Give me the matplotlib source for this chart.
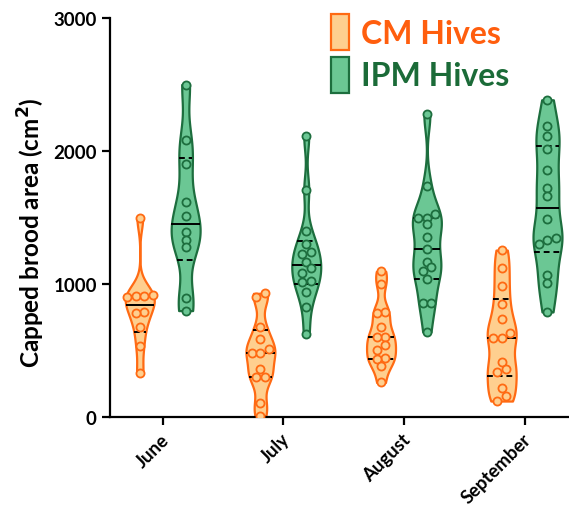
import numpy as np
import matplotlib
matplotlib.use("Agg")
import matplotlib.pyplot as plt
import matplotlib.transforms as mtrans
from matplotlib import cbook, mlab
from matplotlib.patches import Rectangle

months = ["June", "July", "August", "September"]
cm_june = [1500, 920, 910, 910, 900, 790, 780, 675, 536, 330]
ipm_june = [2500, 2080, 1900, 1620, 1510, 1390, 1330, 1280, 895, 800]
cm_july = [930, 900, 675, 585, 510, 480, 480, 360, 300, 300, 105, 10]
ipm_july = [2110, 1710, 1400, 1300, 1240, 1225, 1165, 1120, 1085, 1020, 1015, 940, 825, 625]
cm_aug = [1095, 1000, 790, 785, 675, 600, 600, 540, 505, 440, 435, 385, 260]
ipm_aug = [2275, 1735, 1530, 1500, 1500, 1450, 1350, 1260, 1165, 1130, 1095, 1040, 860, 860, 640]
cm_sep = [1255, 1120, 985, 850, 740, 635, 595, 595, 410, 360, 340, 215, 155, 120]
ipm_sep = [2385, 2185, 2110, 2015, 1860, 1720, 1660, 1485, 1345, 1330, 1300, 1065, 1005, 790]

cm_data = [cm_june, cm_july, cm_aug, cm_sep]
ipm_data = [ipm_june, ipm_july, ipm_aug, ipm_sep]
yticks = [0, 1000, 2000, 3000]
legend_labels = ["CM Hives", "IPM Hives"]

CM_FILL, CM_EDGE, CM_TEXT = "#FECF8F", "#FF6A13", "#FF5E0E"
IPM_FILL, IPM_EDGE, IPM_TEXT = "#6BC794", "#1D6E3E", "#1B6B38"

plt.rcParams['font.family'] = ['Lato', 'DejaVu Sans']

W, H = 569, 506
fig = plt.figure(figsize=(W / 100, H / 100), dpi=100)
L, R, T, B = 110, 568, 19, 418
ax = fig.add_axes([L / W, 1 - B / H, (R - L) / W, (B - T) / H])
xmin, xmax = -0.437, 3.36
ax.set_xlim(xmin, xmax)
ax.set_ylim(0, 3000)
px_per_x = (R - L) / (xmax - xmin)
px_per_y = (B - T) / 3000.0

offset = 0.19
width = 0.24
bw = 0.3


def kde(X, coords):
    return mlab.GaussianKDE(X, bw).evaluate(coords)


def swarm(vals, d_px=8.5):
    vals = np.asarray(vals, float)
    order = np.argsort(vals)
    offs = np.zeros(len(vals))
    rows = []
    for i in order:
        if rows and (vals[i] - vals[rows[-1][0]]) * px_per_y < d_px * 0.75:
            rows[-1].append(i)
        else:
            rows.append([i])
    for row in rows:
        k = len(row)
        for j, i in enumerate(row):
            offs[i] = (j - (k - 1) / 2) * d_px / px_per_x
    return offs


def draw_group(datasets, shift, fill, edge):
    positions = [i + shift for i in range(len(datasets))]
    stats = cbook.violin_stats(datasets, kde, points=300)
    parts = ax.violin(stats, positions=positions, widths=width,
                      showmeans=False, showextrema=False, showmedians=False)
    for body in parts['bodies']:
        body.set_facecolor(fill)
        body.set_edgecolor(edge)
        body.set_alpha(1)
        body.set_linewidth(1.6)
        body.set_zorder(2)
    for st, pos, dat in zip(stats, positions, datasets):
        coords = np.asarray(st['coords'])
        v = np.asarray(st['vals'])
        v = 0.5 * width * v / v.max()
        q1, med, q3 = np.percentile(dat, [25, 50, 75], method='weibull')
        for q, ls in [(med, '-'), (q1, (0, (3, 2))), (q3, (0, (3, 2)))]:
            hw = np.interp(q, coords, v)
            ax.plot([pos - hw, pos + hw], [q, q], color='black', lw=1.4,
                    ls=ls, zorder=3, solid_capstyle='butt')
        xo = swarm(dat)
        ax.scatter(pos + xo, dat, s=34, facecolor=fill, edgecolor=edge,
                   linewidth=1.3, zorder=4)


draw_group(cm_data, -offset, CM_FILL, CM_EDGE)
draw_group(ipm_data, offset, IPM_FILL, IPM_EDGE)

for side in ['top', 'right']:
    ax.spines[side].set_visible(False)
for side in ['left', 'bottom']:
    ax.spines[side].set_linewidth(1.6)
ax.tick_params(width=1.6, length=6, direction='out')
ax.set_yticks(yticks)
ax.set_yticklabels([str(t) for t in yticks], fontsize=13.5, fontweight='bold')
ax.set_xticks(range(len(months)))
ax.set_xticklabels(months, rotation=45, ha='right', va='top',
                   rotation_mode='anchor', fontsize=13.3, fontweight='bold')
shift = mtrans.ScaledTranslation(-2 / 100, 0, fig.dpi_scale_trans)
for lab in ax.get_xticklabels():
    lab.set_transform(lab.get_transform() + shift)
ax.set_ylabel("Capped brood area (cm$^{\\mathbf{2}}$)", fontsize=17.5,
              fontweight='bold')
ax.yaxis.set_label_coords(-0.137, 0.465)

# legend drawn manually in pixel positions
for k, (lab, fill, edge, tc) in enumerate(zip(
        legend_labels, [CM_FILL, IPM_FILL], [CM_EDGE, IPM_EDGE],
        [CM_TEXT, IPM_TEXT])):
    top = 15 + 43 * k
    fig.add_artist(Rectangle((331 / W, 1 - (top + 36) / H), 18 / W, 36 / H,
                             transform=fig.transFigure, facecolor=fill,
                             edgecolor=edge, linewidth=1.6))
    fig.text(361 / W, 1 - (top + 19) / H, lab, color=tc, fontsize=23,
             fontweight='bold', ha='left', va='center')

fig.savefig("out.png", dpi=100)
